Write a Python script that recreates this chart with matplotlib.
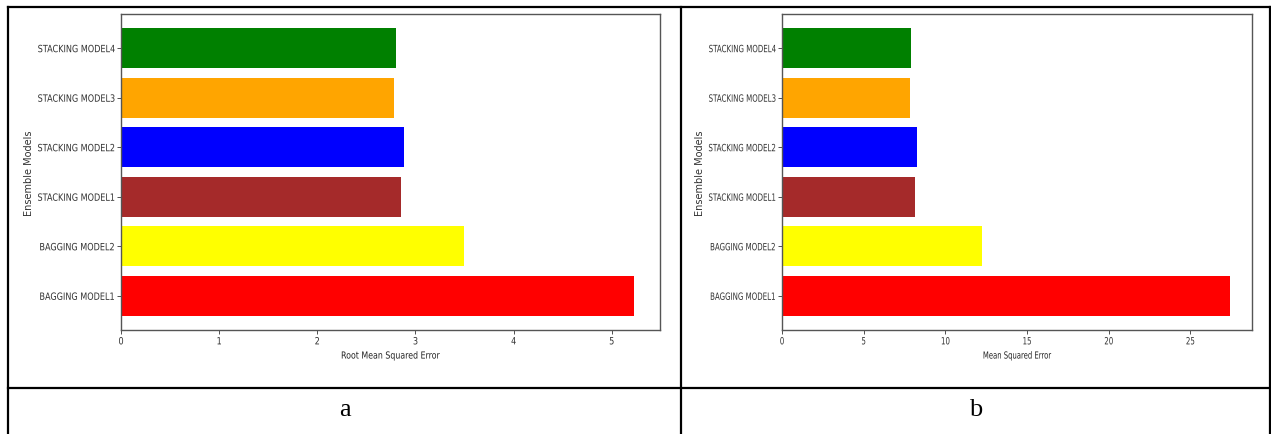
import matplotlib.pyplot as plt
from matplotlib.lines import Line2D
from matplotlib.patheffects import AbstractPathEffect
from matplotlib.transforms import Affine2D

models = ["BAGGING MODEL1", "BAGGING MODEL2", "STACKING MODEL1",
          "STACKING MODEL2", "STACKING MODEL3", "STACKING MODEL4"]
rmse = [5.23, 3.49, 2.85, 2.88, 2.785, 2.80]
mse = [27.40, 12.22, 8.13, 8.27, 7.81, 7.88]
colors = ["red", "yellow", "brown", "blue", "orange", "green"]
panel_labels = ["a", "b"]

W, H = 1271, 435
fig = plt.figure(figsize=(W / 100, H / 100), dpi=100)


class Squash(AbstractPathEffect):
    # the source screenshot was squeezed sideways, so squeeze the text too
    def __init__(self, sx, pivot):
        super().__init__()
        self.sx = sx
        self.pivot = pivot

    def draw_path(self, renderer, gc, tpath, affine, rgbFace=None):
        ext = tpath.get_extents(affine)
        p = {"left": ext.x0, "center": (ext.x0 + ext.x1) / 2, "right": ext.x1}[self.pivot]
        aff = affine + Affine2D().translate(-p, 0).scale(self.sx, 1).translate(p, 0)
        renderer.draw_path(gc, tpath, aff, rgbFace)


def px(x0, y0, x1, y1):
    # pixel box (top-left origin) -> figure fraction rect
    return [x0 / W, 1 - y1 / H, (x1 - x0) / W, (y1 - y0) / H]

boxes = [px(121, 15, 660, 331), px(782, 15, 1252, 331)]
xlabels = ["Root Mean Squared Error", "Mean Squared Error"]
squeeze = [0.81, 0.705]
ylab_x = [-0.161, -0.163]

for rect, vals, xl, sx, lx in zip(boxes, [rmse, mse], xlabels, squeeze, ylab_x):
    ax = fig.add_axes(rect)
    ax.barh(models, vals, color=colors, height=0.8)
    ax.set_xlabel(xl, fontsize=7, color="#222222", labelpad=3)
    ax.set_ylabel("Ensemble Models", fontsize=7, color="#333333")
    ax.yaxis.set_label_coords(lx, 0.5)
    ax.tick_params(labelsize=7.2, length=2.8, width=0.6, pad=1.8, colors="#333333")
    ax.xaxis.label.set_path_effects([Squash(sx, "center")])
    for lab in ax.get_xticklabels():
        lab.set_path_effects([Squash(sx, "center")])
    for lab in ax.get_yticklabels():
        lab.set_path_effects([Squash(sx, "right")])
    for s in ax.spines.values():
        s.set_color("#555555")
        s.set_linewidth(1.0)

# table frame
def hline(y, x0, x1):
    fig.add_artist(Line2D([x0 / W, x1 / W], [1 - y / H, 1 - y / H], color="black", lw=1.6))

def vline(x, y0, y1):
    fig.add_artist(Line2D([x / W, x / W], [1 - y0 / H, 1 - y1 / H], color="black", lw=1.6))

hline(7.5, 8, 1270)
hline(389, 8, 1270)
vline(8, 7.5, 435)
vline(681, 7.5, 435)
vline(1270, 7.5, 435)

for xc, lab in zip([345, 976], panel_labels):
    fig.text(xc / W, 1 - 410 / H, lab, ha="center", va="center",
             fontsize=19, family="Liberation Serif")

fig.savefig("out.png", dpi=100)
